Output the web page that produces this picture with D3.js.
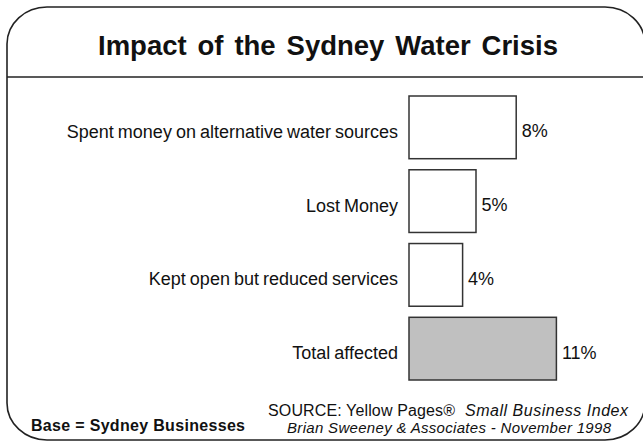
<!DOCTYPE html>
<html>
<head>
<meta charset="utf-8">
<script src="https://cdn.jsdelivr.net/npm/d3@7"></script>
<style>
  html, body { margin: 0; padding: 0; background: #fff; }
  svg { display: block; }
  text { font-family: "Liberation Sans", Arial, sans-serif; fill: #111; }
</style>
</head>
<body>
<svg id="chart" width="643" height="443"></svg>
<script>
// Survey results: share of Sydney businesses affected by the water crisis
const categories = [
  "Spent money on alternative water sources",
  "Lost Money",
  "Kept open but reduced services",
  "Total affected"
];
const values = [8, 5, 4, 11];
const valueLabels = ["8%", "5%", "4%", "11%"];
const highlight = [false, false, false, true];

const titleText = "Impact of the Sydney Water Crisis";
const baseNote = "Base = Sydney Businesses";
const sourceLine = "SOURCE: Yellow Pages®";
const sourceTitle = "Small Business Index";
const creditLine = "Brian Sweeney & Associates - November 1998";

const W = 643, H = 443;
const svg = d3.select("#chart");

// Rounded frame (right side runs off the page) and title divider
svg.append("rect")
  .attr("x", 7).attr("y", 7)
  .attr("width", 638).attr("height", 433)
  .attr("rx", 40).attr("ry", 37)
  .attr("fill", "#fff")
  .attr("stroke", "#222")
  .attr("stroke-width", 1.6);

svg.append("line")
  .attr("x1", 7).attr("x2", W)
  .attr("y1", 77).attr("y2", 77)
  .attr("stroke", "#222")
  .attr("stroke-width", 1.6);

// Title, spread across its words to its full width
const title = svg.append("text")
  .attr("x", 98).attr("y", 55)
  .attr("font-size", 27.5)
  .attr("font-weight", "bold")
  .text(titleText);
{
  const natural = title.node().getComputedTextLength();
  const gaps = titleText.split(" ").length - 1;
  title.attr("word-spacing", Math.max(0, (460 - natural) / gaps));
}

// Scales
const x = d3.scaleLinear().domain([0, 11]).range([409, 556.4]);
const y = d3.scaleBand().domain(categories).range([96, 380]).paddingInner(0.15).paddingOuter(0);

const rows = categories.map((c, i) => ({ c, v: values[i], label: valueLabels[i], hi: highlight[i] }));

const g = svg.append("g");

g.selectAll("rect.bar")
  .data(rows)
  .join("rect")
  .attr("class", "bar")
  .attr("x", x(0))
  .attr("y", d => y(d.c))
  .attr("width", d => x(d.v) - x(0))
  .attr("height", y.bandwidth())
  .attr("fill", d => d.hi ? "#c0c0c0" : "#fff")
  .attr("stroke", "#333")
  .attr("stroke-width", 1.5);

// Category labels to the left of the bars
g.selectAll("text.cat")
  .data(rows)
  .join("text")
  .attr("class", "cat")
  .attr("x", x(0) - 11)
  .attr("y", d => y(d.c) + y.bandwidth() / 2 + 10.5)
  .attr("text-anchor", "end")
  .attr("font-size", 18)
  .attr("word-spacing", -1)
  .text(d => d.c);

// Value labels at the bar ends
g.selectAll("text.val")
  .data(rows)
  .join("text")
  .attr("class", "val")
  .attr("x", d => x(d.v) + 5.5)
  .attr("y", d => y(d.c) + y.bandwidth() / 2 + 10)
  .attr("font-size", 18)
  .text(d => d.label);

// Footer notes
function fitText(sel, width) {
  sel.attr("textLength", width).attr("lengthAdjust", "spacing");
  return sel;
}

fitText(svg.append("text")
  .attr("x", 31).attr("y", 431)
  .attr("font-size", 16)
  .attr("font-weight", "bold")
  .text(baseNote), 214);

fitText(svg.append("text")
  .attr("x", 268).attr("y", 415.5)
  .attr("font-size", 16)
  .text(sourceLine), 187);

fitText(svg.append("text")
  .attr("x", 465).attr("y", 415.5)
  .attr("font-size", 16)
  .attr("font-style", "italic")
  .text(sourceTitle), 163);

fitText(svg.append("text")
  .attr("x", 287).attr("y", 433)
  .attr("font-size", 15)
  .attr("font-style", "italic")
  .text(creditLine), 324);
</script>
</body>
</html>
